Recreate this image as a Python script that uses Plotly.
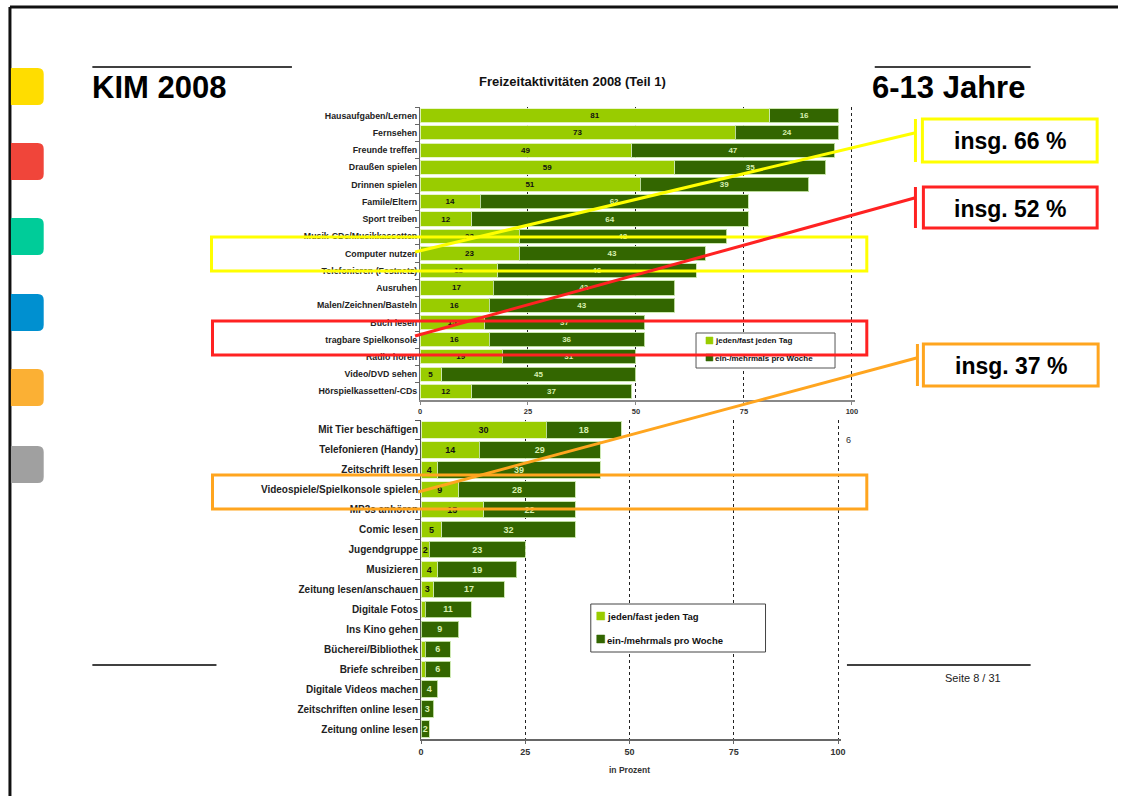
import plotly.graph_objects as go

W, H = 1123, 796

# ---------------- data ----------------
top_cats = ["Hausaufgaben/Lernen", "Fernsehen", "Freunde treffen", "Draußen spielen",
            "Drinnen spielen", "Famile/Eltern", "Sport treiben", "Musik-CDs/Musikkassetten",
            "Computer nutzen", "Telefonieren (Festnetz)", "Ausruhen", "Malen/Zeichnen/Basteln",
            "Buch lesen", "tragbare Spielkonsole", "Radio hören", "Video/DVD sehen",
            "Hörspielkassetten/-CDs"]
top_daily = [81, 73, 49, 59, 51, 14, 12, 23, 23, 18, 17, 16, 15, 16, 19, 5, 12]
top_weekly = [16, 24, 47, 35, 39, 62, 64, 48, 43, 46, 42, 43, 37, 36, 31, 45, 37]

bot_cats = ["Mit Tier beschäftigen", "Telefonieren (Handy)", "Zeitschrift lesen",
            "Videospiele/Spielkonsole spielen", "MP3s anhören", "Comic lesen", "Jugendgruppe",
            "Musizieren", "Zeitung lesen/anschauen", "Digitale Fotos", "Ins Kino gehen",
            "Bücherei/Bibliothek", "Briefe schreiben", "Digitale Videos machen",
            "Zeitschriften online lesen", "Zeitung online lesen"]
bot_daily = [30, 14, 4, 9, 15, 5, 2, 4, 3, 1, 0, 1, 1, 0, 0, 0]
bot_weekly = [18, 29, 39, 28, 22, 32, 23, 19, 17, 11, 9, 6, 6, 4, 3, 2]

series_names = ["jeden/fast jeden Tag", "ein-/mehrmals pro Woche"]
x_ticks = [0, 25, 50, 75, 100]
chart_title = "Freizeitaktivitäten 2008 (Teil 1)"
x_title = "in Prozent"
highlights = [("insg. 66 %", "#FFFF00"), ("insg. 52 %", "#FF2222"), ("insg. 37 %", "#FFA51F")]
tab_colors = ["#FFDD00", "#F0453A", "#00CC99", "#0090D0", "#FBB034", "#A0A0A0"]

LIGHT = "#99CC00"
DARK = "#336600"
FONT = "Liberation Sans, Arial, sans-serif"
XMAX = 100.6


def px(x):
    return x / W


def py(y):
    return 1 - y / H


def lab(vals):
    return [str(v) if v >= 2 else "" for v in vals]


fig = go.Figure()

for cats, daily, weekly, xa, ya, fs in [
    (top_cats, top_daily, top_weekly, "x", "y", 8),
    (bot_cats, bot_daily, bot_weekly, "x2", "y2", 9),
]:
    fig.add_trace(go.Bar(
        orientation="h", y=cats, x=daily, name=series_names[0], xaxis=xa, yaxis=ya,
        marker=dict(color=LIGHT, line=dict(color="rgba(230,245,200,0.9)", width=1)),
        text=lab(daily), textposition="inside", insidetextanchor="middle", textangle=0,
        constraintext="none",
        textfont=dict(family=FONT, size=fs, color="#111111", weight="bold"),
        showlegend=False, hoverinfo="skip"))
    fig.add_trace(go.Bar(
        orientation="h", y=cats, x=weekly, name=series_names[1], xaxis=xa, yaxis=ya,
        marker=dict(color=DARK, line=dict(color="rgba(200,230,170,0.9)", width=1)),
        text=lab(weekly), textposition="inside", insidetextanchor="middle", textangle=0,
        constraintext="none",
        textfont=dict(family=FONT, size=fs, color="#D8F0B0", weight="bold"),
        showlegend=False, hoverinfo="skip"))

xcommon = dict(range=[0, XMAX], tickvals=x_ticks, showgrid=True, griddash="dot",
               gridcolor="#222222", gridwidth=1, zeroline=False, showline=True,
               ticks="outside", ticklen=3, fixedrange=True)

fig.update_layout(
    width=W, height=H, margin=dict(l=0, r=0, t=0, b=0), autosize=False,
    paper_bgcolor="white", plot_bgcolor="white",
    barmode="stack", bargap=0.18, showlegend=False,
    font=dict(family=FONT, color="#222222"),
    xaxis=dict(domain=[px(420), px(420 + 4.35 * XMAX)], anchor="y", linecolor="#888888",
               linewidth=2, tickcolor="#888888",
               tickfont=dict(size=7.5, color="#333333", weight="bold"), **xcommon),
    yaxis=dict(domain=[py(400), py(107)], anchor="x", categoryorder="array",
               categoryarray=top_cats, autorange="reversed", showline=True,
               linecolor="#666666", ticks="outside", tickson="boundaries", ticklen=4,
               tickcolor="#666666", tickfont=dict(size=8.8, color="#222222", weight="bold"),
               fixedrange=True),
    xaxis2=dict(domain=[px(421), px(421 + 4.2 * XMAX)], anchor="y2", linecolor="#666666",
                linewidth=2, tickcolor="#666666",
                tickfont=dict(size=9, color="#333333", weight="bold"), **xcommon),
    yaxis2=dict(domain=[py(739), py(420)], anchor="x2", categoryorder="array",
                categoryarray=bot_cats, autorange="reversed", showline=True,
                linecolor="#555555", ticks="outside", tickson="boundaries", ticklen=5,
                tickcolor="#555555", tickfont=dict(size=10, color="#222222", weight="bold"),
                fixedrange=True),
)

shapes = []
annots = []


def line(x0, y0, x1, y1, color, width, layer="above"):
    shapes.append(dict(type="line", xref="paper", yref="paper", x0=px(x0), y0=py(y0),
                       x1=px(x1), y1=py(y1), line=dict(color=color, width=width), layer=layer))


def rect(x0, y0, x1, y1, color, width, fill="rgba(0,0,0,0)", layer="above"):
    shapes.append(dict(type="rect", xref="paper", yref="paper", x0=px(x0), y0=py(y0),
                       x1=px(x1), y1=py(y1), line=dict(color=color, width=width),
                       fillcolor=fill, layer=layer))


def text(x, y, s, size, color="#000000", bold=False, xanchor="center"):
    annots.append(dict(xref="paper", yref="paper", x=px(x), y=py(y), text=s, showarrow=False,
                       xanchor=xanchor, yanchor="middle", borderpad=0,
                       font=dict(family=FONT, size=size, color=color,
                                 weight="bold" if bold else "normal")))


# slide frame
line(7, 7, 1123, 7, "#111111", 3)
line(7, 7, 7, 796, "#111111", 3)

# colour tabs on the left
tab_tops = [68, 143, 218, 294, 369, 446]
for c, t in zip(tab_colors, tab_tops):
    x0, x1, y0, y1, r = 8, 41, t, t + 37, 6
    path = (f"M {px(x0)},{py(y0)} L {px(x1 - r)},{py(y0)} "
            f"Q {px(x1)},{py(y0)} {px(x1)},{py(y0 + r)} "
            f"L {px(x1)},{py(y1 - r)} Q {px(x1)},{py(y1)} {px(x1 - r)},{py(y1)} "
            f"L {px(x0)},{py(y1)} Z")
    shapes.append(dict(type="path", xref="paper", yref="paper", path=path,
                       fillcolor=c, line=dict(width=0), layer="above"))

# header / footer rules
line(90, 67, 291, 67, "#000000", 1.5)
line(878, 67, 1035, 67, "#000000", 1.5)
line(90, 665, 215, 665, "#000000", 1.5)
line(850, 665, 1035, 665, "#000000", 1.5)

text(89, 87, "KIM 2008", 31, bold=True, xanchor="left")
text(874, 87, "6-13 Jahre", 31, bold=True, xanchor="left")
text(948, 678, "Seite 8 / 31", 11, color="#222222", xanchor="left")
text(852, 440, "6", 9, color="#333333")

# chart title / axis title
text(574, 82, chart_title, 13, color="#111111", bold=True)
text(631, 770, x_title, 8.5, color="#333333", bold=True)

# legends
rect(698, 333, 838, 368, "#555555", 1, fill="white")
rect(708, 337, 715, 344, LIGHT, 0.5, fill=LIGHT)
rect(708, 354, 715, 361, DARK, 0.5, fill=DARK)
text(716, 341, series_names[0], 8, color="#111111", bold=True, xanchor="left")
text(716, 358, series_names[1], 8, color="#111111", bold=True, xanchor="left")

rect(592, 604, 768, 652, "#444444", 1, fill="white")
rect(598, 612, 606, 620, LIGHT, 0.5, fill=LIGHT)
rect(598, 635, 606, 643, DARK, 0.5, fill=DARK)
text(607, 616, series_names[0], 9.5, color="#111111", bold=True, xanchor="left")
text(607, 640, series_names[1], 9.5, color="#111111", bold=True, xanchor="left")

# highlight boxes and connectors
row_boxes = [(210, 237, 870, 271), (211, 321, 870, 355), (211, 475, 870, 509)]
call_boxes = [(926, 119, 1102, 162), (927, 187, 1102, 228), (927, 344, 1103, 386)]
conn = [((415, 252), (918, 133)), ((415, 336), (918, 198)), ((418, 492), (920, 358))]
for (lbl, col), rb, cb, ((ax, ay), (bx, by)) in zip(highlights, row_boxes, call_boxes, conn):
    rect(*rb, col, 3)
    rect(*cb, col, 3, fill="white")
    line(ax, ay, bx, by, col, 3)
    line(bx + 1, cb[1], bx + 1, cb[3], col, 3)
    text((cb[0] + cb[2]) / 2, (cb[1] + cb[3]) / 2 + 1, lbl, 23, bold=True)

fig.update_layout(shapes=shapes, annotations=annots)

fig.write_html("out.html")
